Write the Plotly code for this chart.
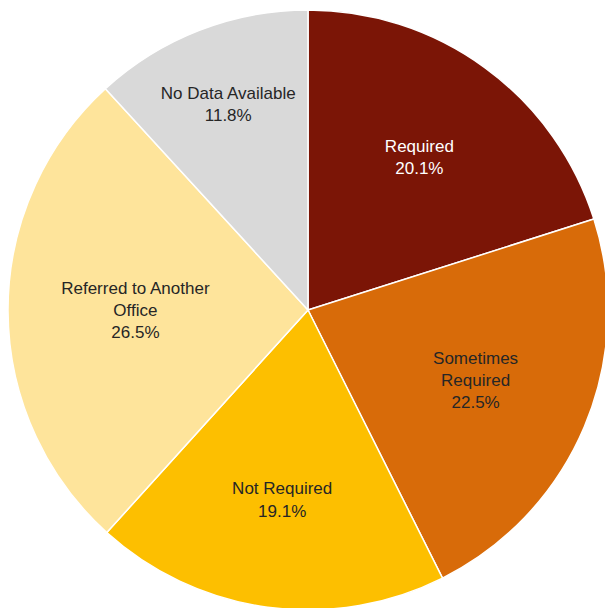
import plotly.graph_objects as go

categories = ["Required", "Sometimes Required", "Not Required",
              "Referred to Another Office", "No Data Available"]
display_labels = ["Required", "Sometimes<br>Required", "Not Required",
                  "Referred to Another<br>Office", "No Data Available"]
shares = [20.1, 22.5, 19.1, 26.5, 11.8]
colors = ["#7B1506", "#D86B09", "#FDBF00", "#FEE49B", "#D9D9D9"]
text_colors = ["#FFFFFF", "#262626", "#262626", "#262626", "#262626"]

texts = [f"{lab}<br>{v:.1f}%" for lab, v in zip(display_labels, shares)]

fig = go.Figure(go.Pie(
    labels=categories,
    values=shares,
    text=texts,
    textinfo="text",
    textposition="inside",
    insidetextorientation="horizontal",
    sort=False,
    direction="clockwise",
    rotation=0,
    marker=dict(colors=colors, line=dict(color="#FFFFFF", width=1.5)),
    insidetextfont=dict(family="Liberation Sans, Arial, sans-serif", size=17, color=text_colors),
    showlegend=False,
    hoverinfo="label+percent",
))

fig.update_layout(
    width=616, height=620,
    margin=dict(l=8, r=8, t=10, b=10),
    paper_bgcolor="#FFFFFF",
    plot_bgcolor="#FFFFFF",
)

fig.write_html("out.html", post_script="document.body.style.margin='0';document.body.style.overflow='hidden';")
